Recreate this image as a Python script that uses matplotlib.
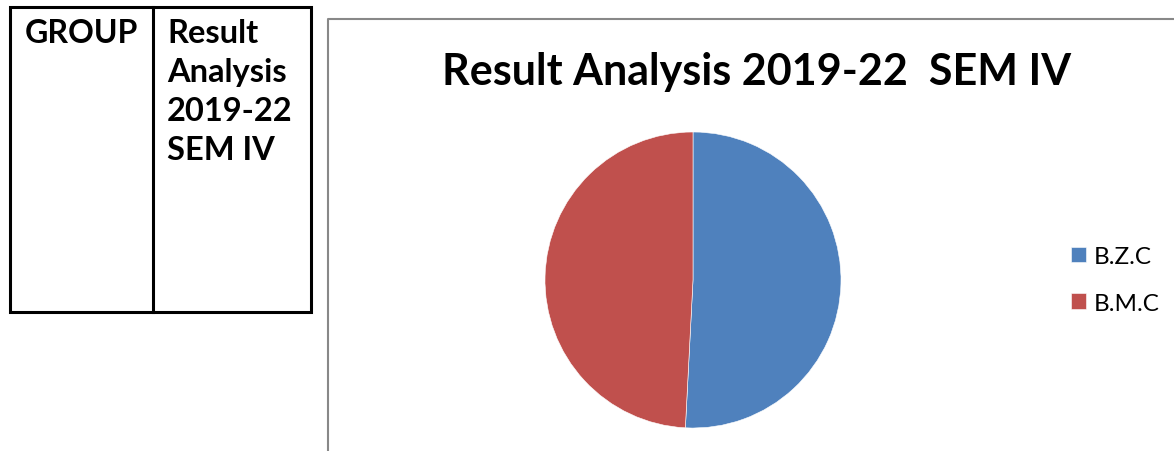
import matplotlib
matplotlib.use("Agg")
import matplotlib.pyplot as plt
from matplotlib.patches import Rectangle
from matplotlib.lines import Line2D

# data
groups = ["B.Z.C", "B.M.C"]
results = [31, 30]
colors = ["#4F81BD", "#C0504D"]
title = "Result Analysis 2019-22  SEM IV"
table_head = ["GROUP", "Result\nAnalysis\n2019-22\nSEM IV"]

W, H = 1174, 452
plt.rcParams["font.family"] = ["Lato", "DejaVu Sans"]
fig = plt.figure(figsize=(W / 100, H / 100), dpi=100)


def fx(x):
    return x / W


def fy(y):
    return 1 - y / H


# left table
fig.add_artist(Rectangle((fx(10), fy(313)), fx(301), (313 - 8) / H, fill=False,
                         edgecolor="black", linewidth=2.2, transform=fig.transFigure))
fig.add_artist(Line2D([fx(153), fx(153)], [fy(8), fy(313)], color="black",
                      linewidth=2.2, transform=fig.transFigure))
fig.text(fx(25), fy(19), table_head[0], fontsize=23, fontweight="bold",
         va="top", ha="left")
fig.text(fx(167), fy(19), table_head[1], fontsize=23.5, fontweight="bold",
         va="top", ha="left", linespacing=1.42)

# chart frame (left and top edge only)
fig.add_artist(Line2D([fx(328), fx(328), fx(1174)], [fy(452), fy(20), fy(20)],
                      color="#888888", linewidth=1.5, transform=fig.transFigure))

fig.text(fx(757), fy(72), title, fontsize=31, fontweight="bold",
         ha="center", va="center")

# pie
cx, cy, r = 693, 281, 148
ax = fig.add_axes([fx(cx - 160), fy(cy + 160), 320 / W, 320 / H])
wedges, _ = ax.pie(results, colors=colors, startangle=90, counterclock=False,
                   radius=1, wedgeprops=dict(edgecolor="white", linewidth=0.4))
lim = 160 / r
ax.set_xlim(-lim, lim)
ax.set_ylim(-lim, lim)
ax.set_aspect("equal")
ax.axis("off")

fig.legend(wedges, groups, loc="center left", bbox_to_anchor=(fx(1071), fy(281)),
           frameon=False, fontsize=17.5, handlelength=0.6, handleheight=0.6,
           handletextpad=0.35, labelspacing=1.05, borderpad=0, borderaxespad=0)

fig.savefig("out.png", dpi=100)
